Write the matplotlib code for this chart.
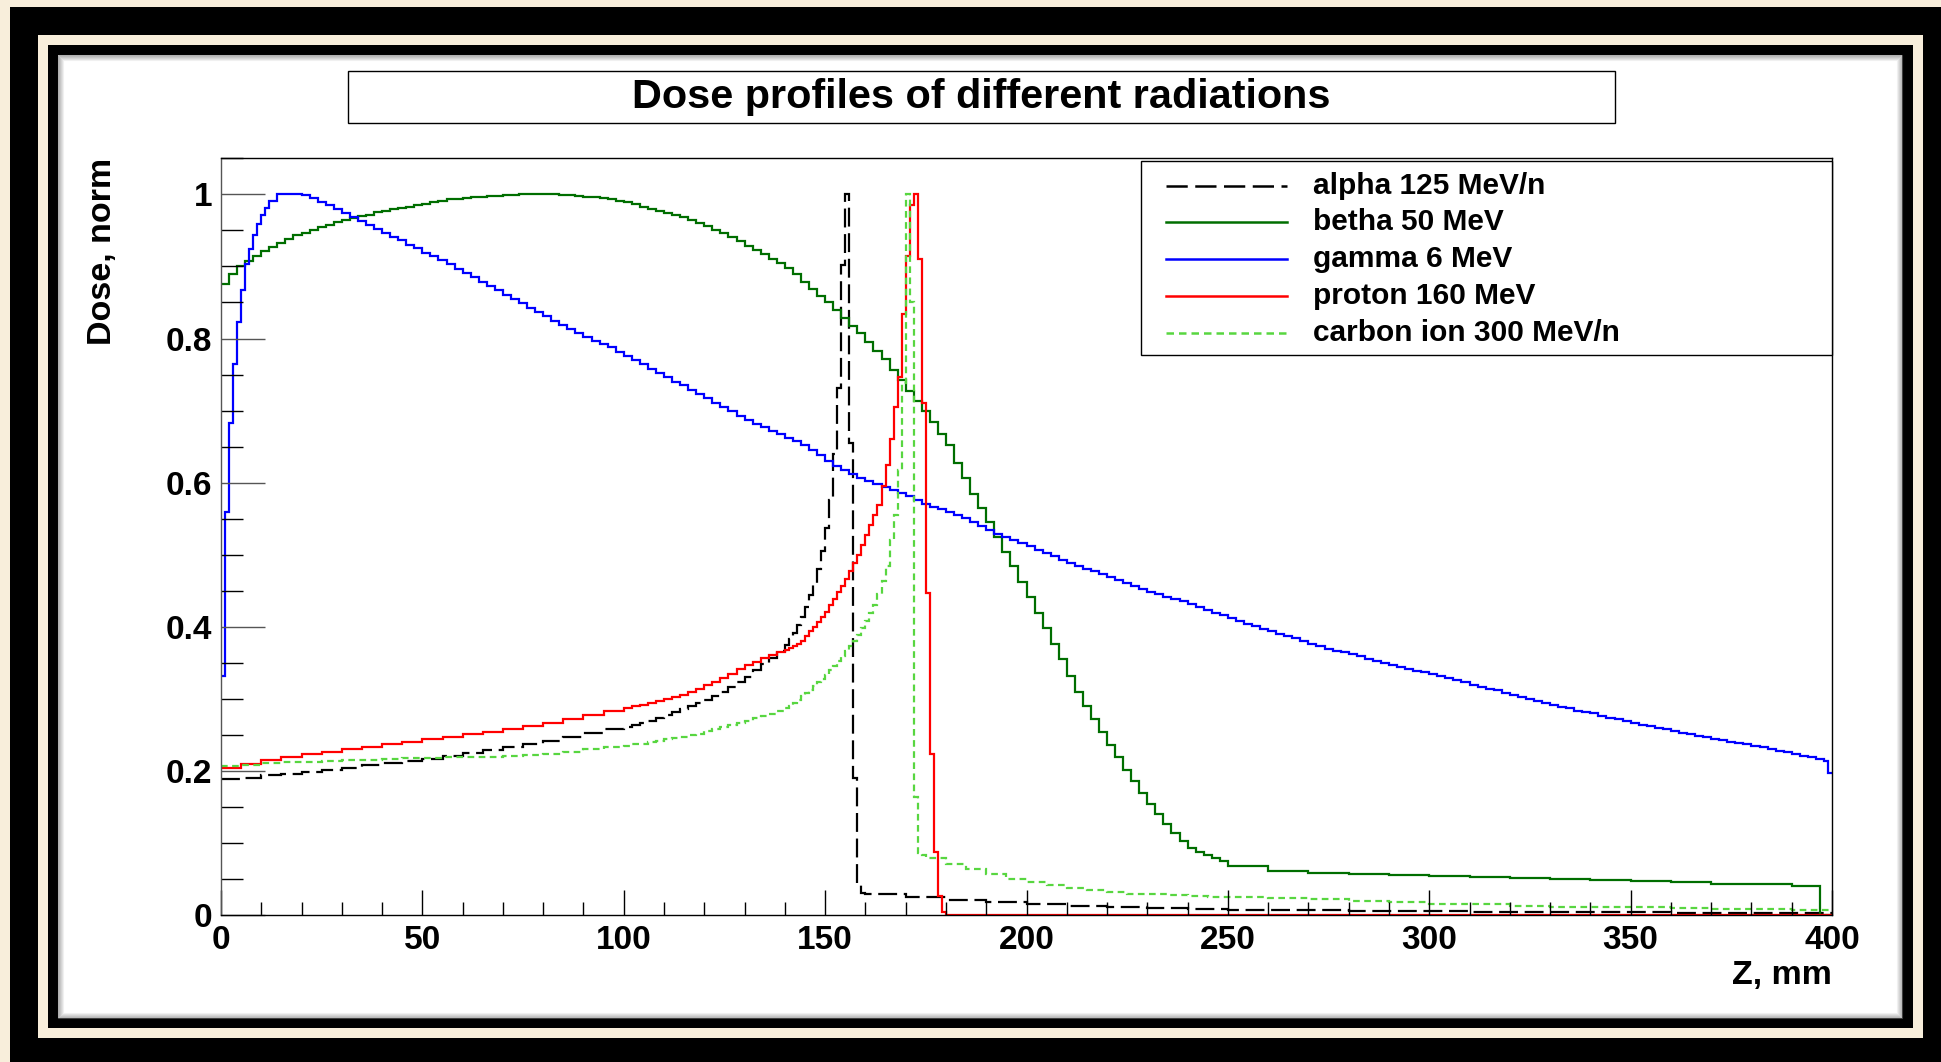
import numpy as np
import matplotlib
matplotlib.use("Agg")
import matplotlib.pyplot as plt
from matplotlib.patches import Rectangle
from matplotlib.lines import Line2D
from matplotlib.ticker import MultipleLocator, FuncFormatter

# ---- data (dose, normalised); bin edges in mm ----
alpha_edges = np.concatenate([np.arange(0, 100, 5), np.arange(100, 140, 2), np.arange(140, 160, 1),
                              np.arange(160, 401, 10)])
alpha_dose = [0.189, 0.191, 0.194, 0.196, 0.199, 0.202, 0.205, 0.208, 0.211, 0.214,
              0.217, 0.221, 0.225, 0.229, 0.233, 0.237, 0.242, 0.248, 0.253, 0.258,
              0.261, 0.264, 0.267, 0.270, 0.274, 0.278, 0.282, 0.286, 0.290, 0.294,
              0.299, 0.304, 0.310, 0.316, 0.323, 0.331, 0.340, 0.349, 0.357, 0.367,
              0.375, 0.383, 0.392, 0.402, 0.414, 0.428, 0.444, 0.460, 0.480, 0.505,
              0.537, 0.576, 0.640, 0.731, 0.902, 1.000, 0.655, 0.190, 0.043, 0.031,
              0.029, 0.025, 0.021, 0.018, 0.015, 0.013, 0.011, 0.010, 0.009, 0.008,
              0.0075, 0.007, 0.0065, 0.006, 0.0055, 0.005, 0.005, 0.0045, 0.004, 0.004,
              0.0035, 0.0035, 0.003, 0.003]

betha_edges = np.concatenate([np.arange(0, 250, 2), np.arange(250, 390, 10), [390, 397, 400]])
betha_dose = [0.875, 0.889, 0.900, 0.908, 0.915, 0.921, 0.927, 0.932, 0.938, 0.943,
              0.947, 0.951, 0.955, 0.958, 0.961, 0.964, 0.967, 0.970, 0.972, 0.975,
              0.977, 0.979, 0.981, 0.983, 0.985, 0.987, 0.989, 0.991, 0.993, 0.994,
              0.995, 0.996, 0.997, 0.998, 0.998, 0.999, 0.999, 1.000, 1.000, 1.000,
              1.000, 1.000, 0.999, 0.999, 0.998, 0.997, 0.996, 0.995, 0.993, 0.991,
              0.989, 0.986, 0.983, 0.980, 0.977, 0.974, 0.971, 0.968, 0.964, 0.960,
              0.956, 0.951, 0.946, 0.941, 0.935, 0.929, 0.923, 0.917, 0.911, 0.905,
              0.898, 0.889, 0.879, 0.869, 0.859,
              0.850, 0.840, 0.829, 0.818, 0.807, 0.795, 0.783, 0.771, 0.757, 0.742,
              0.727, 0.713, 0.699, 0.684, 0.668, 0.652, 0.628, 0.606, 0.585, 0.565,
              0.545, 0.525, 0.504, 0.484, 0.462, 0.441, 0.419, 0.398, 0.376, 0.355,
              0.332, 0.310, 0.291, 0.272, 0.254, 0.236, 0.219, 0.202, 0.186, 0.170,
              0.155, 0.141, 0.126, 0.114, 0.103, 0.094, 0.088, 0.083, 0.079, 0.076,
              0.069, 0.062, 0.059, 0.057, 0.056, 0.055, 0.053, 0.052, 0.050, 0.049,
              0.047, 0.046, 0.044, 0.043, 0.041, 0.0]

gamma_edges = np.concatenate([np.arange(0, 20, 1), np.arange(20, 398, 2), [398, 399, 400]])
gamma_dose = [0.332, 0.560, 0.683, 0.764, 0.823, 0.867, 0.903, 0.924, 0.943, 0.959,
              0.972, 0.981, 0.991, 0.991, 1.000, 1.000, 1.000, 1.000, 1.000, 1.000,
              0.999, 0.995, 0.990, 0.985, 0.980, 0.974, 0.969, 0.963, 0.958, 0.952,
              0.947, 0.941, 0.936, 0.930, 0.925, 0.919, 0.914, 0.909, 0.903, 0.897,
              0.891, 0.885, 0.879, 0.873, 0.867, 0.861, 0.855, 0.849, 0.843, 0.837,
              0.831, 0.825, 0.819, 0.813, 0.807, 0.802, 0.797, 0.792, 0.788, 0.782,
              0.776, 0.770, 0.764, 0.758, 0.752, 0.746, 0.740, 0.735, 0.729, 0.723,
              0.717, 0.711, 0.705, 0.699, 0.693, 0.687, 0.682, 0.677, 0.672, 0.667,
              0.662, 0.658, 0.652, 0.645, 0.638, 0.630, 0.623, 0.617, 0.612, 0.607,
              0.602, 0.598, 0.594, 0.590, 0.586, 0.581, 0.576, 0.571, 0.567, 0.563,
              0.559, 0.555, 0.551, 0.546, 0.540, 0.534, 0.529, 0.525, 0.521, 0.516,
              0.512, 0.507, 0.503, 0.498, 0.493, 0.489, 0.485, 0.481, 0.477, 0.473,
              0.469, 0.465, 0.461, 0.457, 0.453, 0.449, 0.445, 0.442, 0.439, 0.436,
              0.432, 0.428, 0.424, 0.420, 0.416, 0.412, 0.408, 0.404, 0.401, 0.397,
              0.394, 0.390, 0.387, 0.384, 0.380, 0.377, 0.373, 0.370, 0.367, 0.365,
              0.362, 0.359, 0.356, 0.353, 0.350, 0.347, 0.344, 0.342, 0.339, 0.337,
              0.335, 0.332, 0.329, 0.326, 0.323, 0.320, 0.317, 0.314, 0.312, 0.309,
              0.306, 0.303, 0.300, 0.297, 0.295, 0.292, 0.289, 0.287, 0.284, 0.282,
              0.280, 0.277, 0.274, 0.272, 0.269, 0.267, 0.264, 0.262, 0.260, 0.258,
              0.256, 0.253, 0.251, 0.249, 0.247, 0.245, 0.243, 0.241, 0.239, 0.237,
              0.235, 0.233, 0.230, 0.228, 0.226, 0.224, 0.221, 0.219, 0.217,
              0.214, 0.198]

proton_edges = np.concatenate([np.arange(0, 100, 5), np.arange(100, 140, 2), np.arange(140, 180, 1),
                               [180, 400]])
proton_dose = [0.204, 0.210, 0.215, 0.220, 0.224, 0.227, 0.230, 0.234, 0.238, 0.241,
               0.244, 0.248, 0.251, 0.254, 0.258, 0.262, 0.267, 0.272, 0.278, 0.284,
               0.288, 0.290, 0.292, 0.294, 0.297, 0.300, 0.303, 0.306, 0.310, 0.314,
               0.319, 0.324, 0.329, 0.335, 0.341, 0.347, 0.352, 0.357, 0.361, 0.365,
               0.368, 0.371, 0.374, 0.377, 0.380, 0.387, 0.394, 0.400, 0.407, 0.414,
               0.421, 0.430, 0.439, 0.448, 0.457, 0.467, 0.477, 0.488, 0.500, 0.513,
               0.528, 0.542, 0.555, 0.569, 0.595, 0.625, 0.660, 0.705, 0.747, 0.834,
               0.915, 0.985, 1.000, 0.910, 0.710, 0.447, 0.224, 0.088, 0.027, 0.005,
               0.0]

carbon_edges = np.concatenate([np.arange(0, 100, 5), np.arange(100, 140, 2), np.arange(140, 175, 1),
                               np.arange(175, 250, 5), np.arange(250, 401, 10)])
carbon_dose = [0.207, 0.209, 0.211, 0.212, 0.213, 0.214, 0.215, 0.216, 0.217, 0.218,
               0.218, 0.219, 0.219, 0.220, 0.221, 0.222, 0.224, 0.227, 0.230, 0.233,
               0.235, 0.237, 0.238, 0.240, 0.242, 0.244, 0.246, 0.248, 0.250, 0.252,
               0.255, 0.258, 0.261, 0.264, 0.267, 0.270, 0.273, 0.276, 0.279, 0.283,
               0.287, 0.291, 0.295, 0.299, 0.304, 0.308, 0.313, 0.318, 0.323, 0.328,
               0.334, 0.340, 0.346, 0.353, 0.360, 0.366, 0.373, 0.381, 0.389, 0.398,
               0.408, 0.419, 0.431, 0.446, 0.463, 0.485, 0.520, 0.555, 0.618, 0.738,
               1.000, 0.850, 0.164, 0.086, 0.083,
               0.079, 0.071, 0.064, 0.057, 0.051, 0.046, 0.042, 0.038, 0.035, 0.032,
               0.030, 0.029, 0.028, 0.027, 0.026,
               0.025, 0.024, 0.022, 0.020, 0.018, 0.016, 0.015, 0.013, 0.012, 0.011,
               0.011, 0.010, 0.009, 0.009, 0.008]

labels = ["alpha 125 MeV/n", "betha 50 MeV", "gamma 6 MeV", "proton 160 MeV", "carbon ion 300 MeV/n"]
colors = ["black", "#006e00", "#0000ff", "#ff0000", "#58d640"]
styles = [(0, (8.5, 3)), "-", "-", "-", (0, (3, 2))]
series = [(alpha_edges, alpha_dose), (betha_edges, betha_dose), (gamma_edges, gamma_dose),
          (proton_edges, proton_dose), (carbon_edges, carbon_dose)]

plt.rcParams['font.family'] = ['Liberation Sans', 'DejaVu Sans']
plt.rcParams['font.weight'] = 'bold'

W, H = 1941, 1062
cream = '#f8eedb'


def fx(px):
    return px / W


def fy(py):
    return 1 - py / H


def box(x0, y0, x1, y1, zorder=-10, **kw):
    fig.add_artist(Rectangle((fx(x0), fy(y1)), fx(x1) - fx(x0), fy(y0) - fy(y1),
                             transform=fig.transFigure, zorder=zorder, **kw))


fig = plt.figure(figsize=(W / 100, H / 100), dpi=100)
fig.patch.set_facecolor(cream)

# picture frame
box(10, 7, W, H, facecolor='black', edgecolor='none')
box(38, 35, 1923, 1038, facecolor=cream, edgecolor='none')
box(48, 45, 1913, 1028, facecolor='black', edgecolor='none')
box(58, 55, 1902, 1018, facecolor='white', edgecolor='none')
for i in range(6):
    box(58 + i, 55 + i, 1902 - i, 1018 - i, facecolor='none',
        edgecolor=(0.45, 0.45, 0.45, 0.55 * (1 - i / 6)), lw=0.8)

ax = fig.add_axes([fx(221), fy(915.3), (1832 - 221) / W, (915.3 - 158.3) / H])
ax.set_facecolor('white')

for (edges, dose), lab, col, ls in zip(series, labels, colors, styles):
    ax.stairs(dose, edges, baseline=None, color=col, lw=1.6, linestyle=ls, label=lab)

ax.set_xlim(0, 400)
ax.set_ylim(0, 1.05)
ax.xaxis.set_major_locator(MultipleLocator(50))
ax.xaxis.set_minor_locator(MultipleLocator(10))
ax.yaxis.set_major_locator(MultipleLocator(0.2))
ax.yaxis.set_minor_locator(MultipleLocator(0.05))
fmt = FuncFormatter(lambda v, p: f'{v:g}')
ax.xaxis.set_major_formatter(fmt)
ax.yaxis.set_major_formatter(fmt)

ax.tick_params(axis='x', which='major', direction='in', length=18, width=1, labelsize=24, pad=7)
ax.tick_params(axis='x', which='minor', direction='in', length=9.4, width=1)
ax.tick_params(axis='y', which='major', direction='in', length=31.7, width=1, labelsize=24, pad=6.5,
               color='#555555')
ax.tick_params(axis='y', which='minor', direction='in', length=15.8, width=1)
for s in ax.spines.values():
    s.set_linewidth(1.0)
ax.spines['left'].set_color('#555555')

ax.set_xlabel('Z, mm', fontsize=24.5, fontweight='bold', loc='right')
ax.xaxis.set_label_coords(1.0, -(960 - 915.3) / 757)
ax.set_ylabel('Dose, norm', fontsize=24.5, fontweight='bold', loc='top')
ax.yaxis.set_label_coords(-(221 - 118) / 1611, 1.0)

# title box
box(348, 70.6, 1615, 122.5, zorder=5, facecolor='white', edgecolor='black', lw=1.0)
fig.text(fx(981.5), fy(96.5), 'Dose profiles of different radiations', fontsize=29.8,
         ha='center', va='center', zorder=6)

# legend box
box(1141, 161, 1832, 355, zorder=5, facecolor='white', edgecolor='black', lw=1.0)
rows = [186, 222, 259, 296, 333]
for y, lab, col, ls in zip(rows, labels, colors, styles):
    fig.add_artist(Line2D([fx(1166), fx(1287)], [fy(y), fy(y)], transform=fig.transFigure,
                          color=col, lw=1.8, linestyle=ls, zorder=6))
    fig.text(fx(1313), fy(y), lab, fontsize=21.5, ha='left', va='center', zorder=6)

fig.savefig('out.png', dpi=100, facecolor=fig.get_facecolor())
